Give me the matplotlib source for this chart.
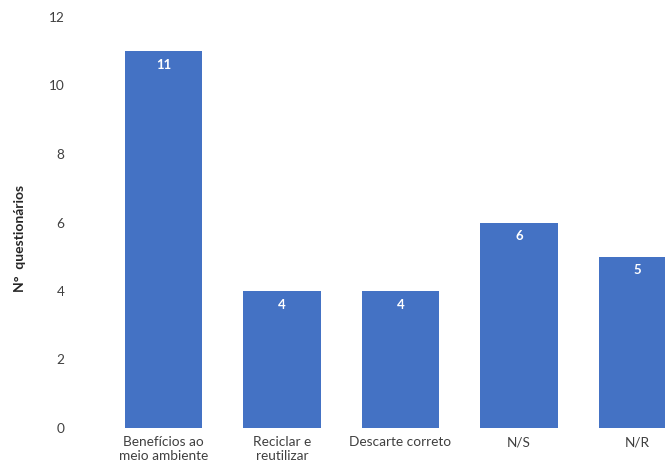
import matplotlib
matplotlib.use("Agg")
import matplotlib.pyplot as plt

categories = ["Benefícios ao\nmeio ambiente", "Reciclar e\nreutilizar", "Descarte correto", "N/S", "N/R"]
counts = [11, 4, 4, 6, 5]

plt.rcParams['font.family'] = ['Lato', 'DejaVu Sans']

fig = plt.figure(figsize=(6.65, 4.63), dpi=100)
ax = fig.add_axes([95 / 665, 35 / 463, 570 / 665, 411 / 463])

x = list(range(len(categories)))
bars = ax.bar(x, counts, width=0.65, color="#4472C4")

for b, v in zip(bars, counts):
    ax.text(b.get_x() + b.get_width() / 2, v - 0.4, str(v), ha="center", va="center",
            color="white", fontsize=9.5, fontweight="bold")

ax.set_xlim(-0.578, 4.232)
ax.set_ylim(0, 12)
ax.set_yticks(range(0, 13, 2))
ax.set_xticks(x)
ax.set_xticklabels(categories, fontsize=9.8, color="#404040", linespacing=1.15)
ax.tick_params(axis="y", labelsize=9.8, labelcolor="#404040", length=0, pad=22)
ax.tick_params(axis="x", length=0, pad=6)
for s in ax.spines.values():
    s.set_visible(False)

fig.text(20 / 665, 1 - 238 / 463, "N°  questionários", rotation=90, ha="center", va="center",
         fontsize=10, fontweight="bold", color="#262626")

fig.savefig("out.png", dpi=100)
